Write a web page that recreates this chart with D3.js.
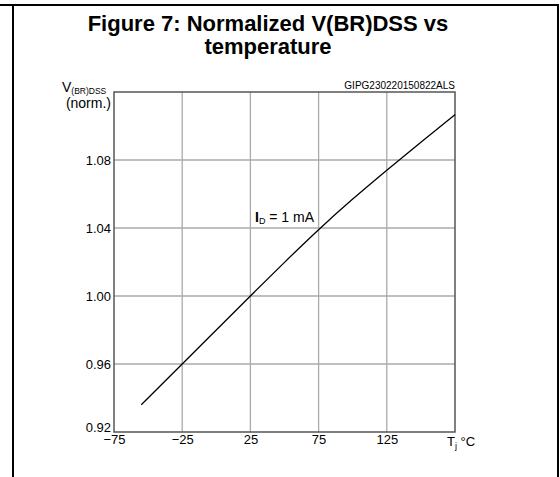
<!DOCTYPE html>
<html><head><meta charset="utf-8">
<script src="https://cdn.jsdelivr.net/npm/d3@7/dist/d3.min.js"></script>
<style>body{margin:0;background:#fff}svg{display:block}text{font-family:Arial,"Liberation Sans",sans-serif}</style>
</head><body>
<script>
const temps = [-55, -25, 0, 25, 50, 75, 100, 125, 150, 175];
const vbr   = [0.936, 0.960, 0.980, 1.000, 1.0198, 1.039, 1.057, 1.074, 1.0905, 1.1067];
const xTicks = [-75, -25, 25, 75, 125];
const yTicks = [0.92, 0.96, 1.00, 1.04, 1.08];
const xGrid = [-25, 25, 75, 125];
const yGrid = [0.96, 1.00, 1.04, 1.08];

const W = 560, H = 477;
const svg = d3.select("body").append("svg").attr("width", W).attr("height", H);

// outer frame
svg.append("line").attr("x1",0).attr("x2",559).attr("y1",5).attr("y2",5).attr("stroke","#000").attr("stroke-width",2);
svg.append("line").attr("x1",13).attr("x2",13).attr("y1",4).attr("y2",H).attr("stroke","#000").attr("stroke-width",2);
svg.append("line").attr("x1",558).attr("x2",558).attr("y1",4).attr("y2",H).attr("stroke","#000").attr("stroke-width",2);

// title
svg.append("text").attr("x",268).attr("y",31).attr("text-anchor","middle").attr("font-size",22).attr("font-weight","bold").text("Figure 7: Normalized V(BR)DSS vs");
svg.append("text").attr("x",268).attr("y",54).attr("text-anchor","middle").attr("font-size",22).attr("font-weight","bold").text("temperature");

const L = 114, R = 455, T = 92, B = 432;
const x = d3.scaleLinear().domain([-75, 175]).range([L, R]);
const y = d3.scaleLinear().domain([0.92, 1.12]).range([B, T]);

const g = svg.append("g");
g.selectAll(".vg").data(xGrid).join("line")
  .attr("x1", d=>x(d)).attr("x2", d=>x(d)).attr("y1", T).attr("y2", B)
  .attr("stroke","#aaa").attr("stroke-width",1.3);
g.selectAll(".hg").data(yGrid).join("line")
  .attr("x1", L).attr("x2", R).attr("y1", d=>y(d)).attr("y2", d=>y(d))
  .attr("stroke","#aaa").attr("stroke-width",1.3);
g.append("rect").attr("x",L).attr("y",T).attr("width",R-L).attr("height",B-T)
  .attr("fill","none").attr("stroke","#555").attr("stroke-width",1.5);

const FF = "Arial, 'Liberation Sans', sans-serif";
// axes via d3
const xAxis = d3.axisBottom(x).tickValues(xTicks).tickSize(0).tickPadding(3).tickFormat(d3.format("d"));
const xa = svg.append("g").attr("transform",`translate(0,${B})`).call(xAxis);
xa.select(".domain").remove();
xa.selectAll("text").attr("font-size",13).attr("fill","#000").attr("font-family",FF);

const yAxis = d3.axisLeft(y).tickValues(yTicks).tickSize(0).tickPadding(3).tickFormat(d3.format(".2f"));
const ya = svg.append("g").attr("transform",`translate(${L},0)`).call(yAxis);
ya.select(".domain").remove();
ya.selectAll("text").attr("font-size",13).attr("fill","#000").attr("font-family",FF)
  .attr("dy", d => d === 0.92 ? "-0.05em" : "0.32em");

// curve
const line = d3.line().x(d=>x(d[0])).y(d=>y(d[1])).curve(d3.curveNatural);
svg.append("path").datum(temps.map((t,i)=>[t, vbr[i]]))
  .attr("d", line).attr("fill","none").attr("stroke","#000").attr("stroke-width",1.3);

// labels
const yl = svg.append("text").attr("x",62).attr("y",92).attr("font-size",14);
yl.append("tspan").text("V");
yl.append("tspan").attr("font-size",8.5).attr("dy",2).text("(BR)DSS");
svg.append("text").attr("x",111).attr("y",108).attr("text-anchor","end").attr("font-size",14).text("(norm.)");

svg.append("text").attr("x",455).attr("y",89).attr("text-anchor","end").attr("font-size",10).text("GIPG230220150822ALS");

const il = svg.append("text").attr("x",255).attr("y",222).attr("font-size",14);
il.append("tspan").attr("font-weight","bold").text("I");
il.append("tspan").attr("font-size",9).attr("dy",2).text("D");
il.append("tspan").attr("dy",-2).text(" = 1 mA");

const tl = svg.append("text").attr("x",447).attr("y",446).attr("font-size",13);
tl.append("tspan").text("T");
tl.append("tspan").attr("font-size",9).attr("dy",3).text("j");
tl.append("tspan").attr("dy",-3).text(" °C");
</script>
</body></html>
